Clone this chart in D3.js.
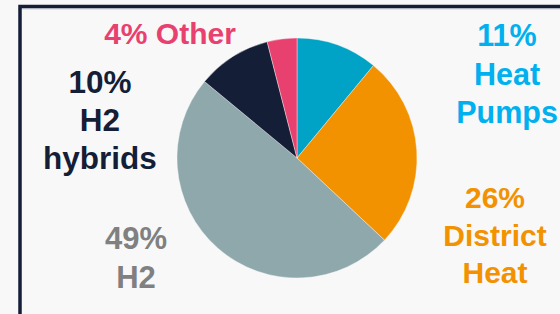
<!DOCTYPE html>
<html>
<head>
<meta charset="utf-8">
<script src="https://cdn.jsdelivr.net/npm/d3@7"></script>
<style>
  html, body { margin: 0; padding: 0; background: #f8f8f8; }
  svg { display: block; }
  text { font-family: "Liberation Sans", Arial, sans-serif; font-weight: bold; }
</style>
</head>
<body>
<svg id="chart"></svg>
<script>
// slice data, clockwise from 12 o'clock
const categories = ['Heat Pumps', 'District Heat', 'H2', 'H2 hybrids', 'Other'];
const shares = [11, 26, 49, 10, 4];
const labelLines = [
  ['11%', 'Heat', 'Pumps'],
  ['26%', 'District', 'Heat'],
  ['49%', 'H2'],
  ['10%', 'H2', 'hybrids'],
  ['4% Other']
];
const sliceColors = ['#00a3c6', '#f29200', '#8fa8ac', '#141e36', '#e8416f'];
const textColors = ['#00b0ef', '#f29200', '#808080', '#141e36', '#e8416f'];

const width = 560, height = 314;
const cx = 297, cy = 158, radius = 120;
// first-baseline anchor, font size and line step for each label block
const labelAnchor = [
  {x: 507, y: 46, size: 30.5, step: 38.5},
  {x: 495, y: 208, size: 30, step: 37.5},
  {x: 136, y: 249, size: 31, step: 39},
  {x: 100, y: 93, size: 31.5, step: 38},
  {x: 170, y: 44, size: 30, step: 38}
];

const svg = d3.select('#chart')
  .attr('width', width)
  .attr('height', height);

svg.append('rect')
  .attr('width', width).attr('height', height)
  .attr('fill', '#f8f8f8');

// frame (runs off the right and bottom edges)
svg.append('line')
  .attr('x1', 18).attr('x2', width + 5)
  .attr('y1', 9).attr('y2', 9)
  .attr('stroke', '#c9d1de').attr('stroke-width', 1);
svg.append('rect')
  .attr('x', 20).attr('y', 6.5)
  .attr('width', width).attr('height', height)
  .attr('fill', 'none')
  .attr('stroke', '#141e36')
  .attr('stroke-width', 3.5);

const pie = d3.pie().sort(null).value(d => d);
const arc = d3.arc().innerRadius(0).outerRadius(radius);

const g = svg.append('g')
  .attr('transform', 'translate(' + cx + ',' + cy + ')');

g.selectAll('path')
  .data(pie(shares))
  .enter()
  .append('path')
  .attr('d', arc)
  .attr('fill', (d, i) => sliceColors[i])
  .attr('stroke', '#f8f8f8')
  .attr('stroke-width', 0.4);

const labels = svg.selectAll('text.label')
  .data(categories)
  .enter()
  .append('text')
  .attr('class', 'label')
  .attr('text-anchor', 'middle')
  .attr('font-size', (d, i) => labelAnchor[i].size)
  .attr('fill', (d, i) => textColors[i])
  .attr('x', (d, i) => labelAnchor[i].x)
  .attr('y', (d, i) => labelAnchor[i].y);

labels.each(function(d, i) {
  d3.select(this).selectAll('tspan')
    .data(labelLines[i])
    .enter()
    .append('tspan')
    .attr('x', labelAnchor[i].x)
    .attr('dy', (t, j) => j === 0 ? 0 : labelAnchor[i].step)
    .text(t => t);
});
</script>
</body>
</html>
